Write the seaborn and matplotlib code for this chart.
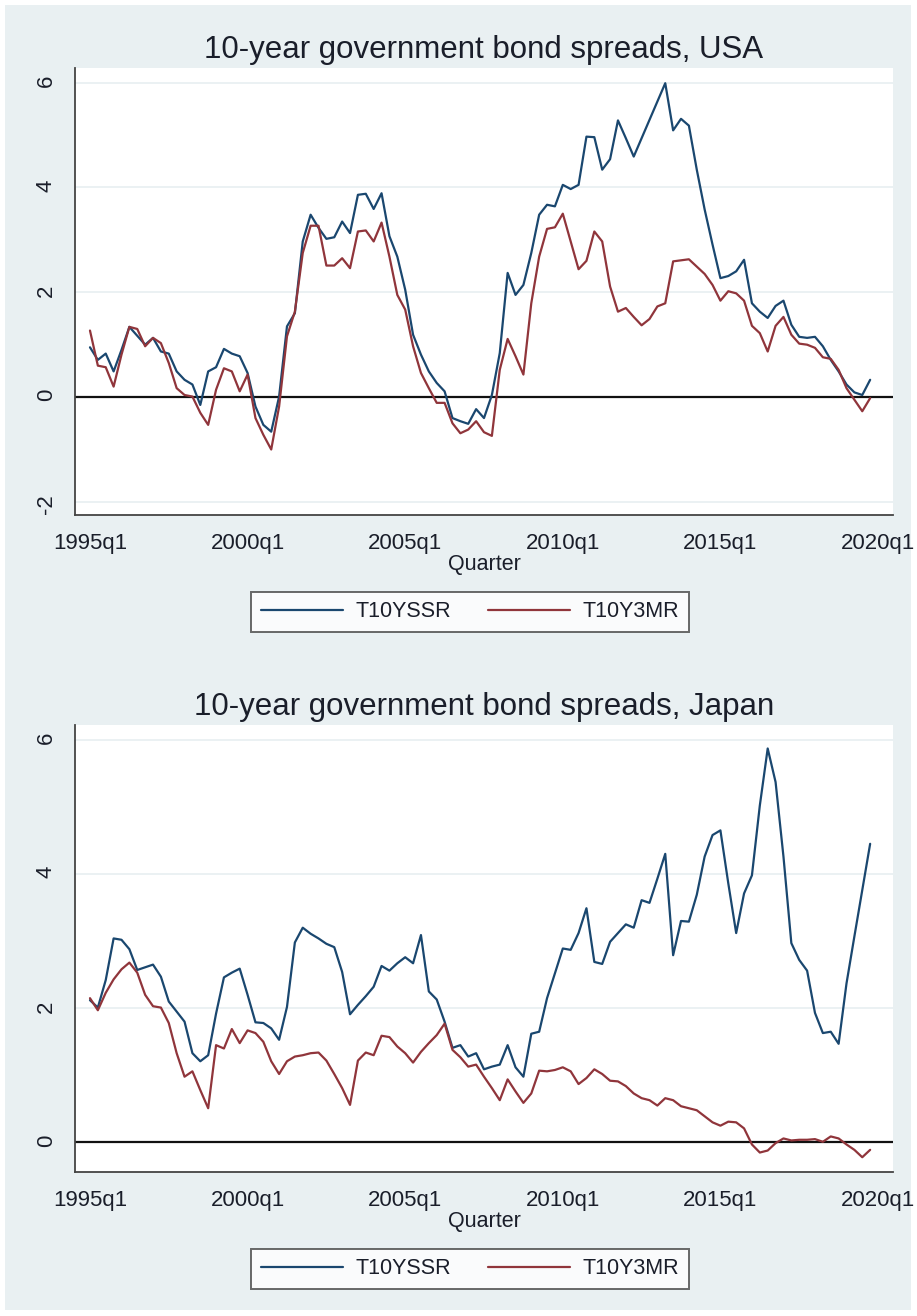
import numpy as np
import pandas as pd
import matplotlib
matplotlib.use("Agg")
import matplotlib.pyplot as plt
from matplotlib.patches import Rectangle
import seaborn as sns

# quarters as Stata %tq (1960q1 = 0): 1995q1 .. 2019q4
quarter = np.arange(140, 240)
tick_pos = [140, 160, 180, 200, 220, 240]
tick_lab = ["1995q1", "2000q1", "2005q1", "2010q1", "2015q1", "2020q1"]
series_names = ["T10YSSR", "T10Y3MR"]

# USA spreads
usa_t10yssr = [0.95, 0.71, 0.83, 0.49, 0.90, 1.34, 1.17, 1.00, 1.13, 0.87,
               0.83, 0.49, 0.33, 0.24, -0.15, 0.49, 0.57, 0.92, 0.83, 0.78,
               0.46, -0.18, -0.53, -0.66, 0.01, 1.35, 1.60, 2.97, 3.48, 3.23,
               3.02, 3.05, 3.35, 3.13, 3.86, 3.88, 3.59, 3.89, 3.07, 2.68,
               2.05, 1.19, 0.81, 0.49, 0.27, 0.11, -0.40, -0.46, -0.51, -0.23,
               -0.40, 0.04, 0.84, 2.37, 1.95, 2.14, 2.75, 3.48, 3.67, 3.64,
               4.05, 3.97, 4.05, 4.97, 4.96, 4.34, 4.54, 5.28, 4.94, 4.59,
               4.94, 5.29, 5.64, 5.99, 5.09, 5.31, 5.18, 4.34, 3.58, 2.91,
               2.27, 2.31, 2.40, 2.62, 1.79, 1.63, 1.51, 1.74, 1.84, 1.38,
               1.15, 1.13, 1.15, 0.97, 0.71, 0.49, 0.24, 0.09, 0.04, 0.33]
usa_t10y3mr = [1.27, 0.60, 0.57, 0.20, 0.81, 1.34, 1.30, 0.97, 1.13, 1.03,
               0.65, 0.17, 0.04, 0.01, -0.30, -0.53, 0.14, 0.55, 0.49, 0.11,
               0.43, -0.40, -0.72, -1.00, -0.18, 1.16, 1.63, 2.75, 3.27, 3.27,
               2.51, 2.51, 2.65, 2.46, 3.16, 3.18, 2.97, 3.33, 2.68, 1.95,
               1.67, 0.97, 0.46, 0.17, -0.11, -0.11, -0.50, -0.69, -0.62, -0.46,
               -0.67, -0.74, 0.52, 1.11, 0.78, 0.43, 1.79, 2.68, 3.21, 3.24,
               3.50, 2.97, 2.44, 2.60, 3.16, 2.97, 2.11, 1.63, 1.70, 1.53,
               1.37, 1.49, 1.73, 1.79, 2.59, 2.61, 2.63, 2.49, 2.35, 2.14,
               1.84, 2.02, 1.98, 1.84, 1.36, 1.22, 0.87, 1.36, 1.53, 1.19,
               1.02, 1.00, 0.94, 0.76, 0.73, 0.52, 0.17, -0.05, -0.27, -0.02]

# Japan spreads
jpn_t10yssr = [2.12, 2.01, 2.42, 3.04, 3.02, 2.88, 2.57, 2.61, 2.65, 2.47,
               2.10, 1.95, 1.80, 1.33, 1.21, 1.30, 1.92, 2.46, 2.53, 2.59,
               2.20, 1.79, 1.78, 1.70, 1.53, 2.02, 2.98, 3.20, 3.11, 3.04,
               2.96, 2.91, 2.54, 1.91, 2.05, 2.18, 2.32, 2.63, 2.56, 2.67,
               2.76, 2.67, 3.09, 2.25, 2.13, 1.80, 1.41, 1.45, 1.28, 1.33,
               1.09, 1.13, 1.16, 1.45, 1.12, 0.98, 1.62, 1.65, 2.15, 2.52,
               2.89, 2.87, 3.12, 3.49, 2.69, 2.66, 2.99, 3.12, 3.25, 3.20,
               3.61, 3.57, 3.93, 4.30, 2.79, 3.30, 3.29, 3.69, 4.26, 4.58,
               4.65, 3.86, 3.12, 3.71, 3.98, 5.02, 5.87, 5.37, 4.26, 2.97,
               2.72, 2.56, 1.93, 1.63, 1.65, 1.47, 2.37, 3.07, 3.76, 4.45]
jpn_t10y3mr = [2.15, 1.97, 2.23, 2.43, 2.58, 2.68, 2.53, 2.20, 2.03, 2.01,
               1.78, 1.33, 0.98, 1.06, 0.78, 0.51, 1.45, 1.40, 1.69, 1.48,
               1.67, 1.63, 1.50, 1.21, 1.02, 1.21, 1.28, 1.30, 1.33, 1.34,
               1.22, 1.02, 0.81, 0.56, 1.22, 1.34, 1.30, 1.59, 1.57, 1.43,
               1.33, 1.19, 1.35, 1.48, 1.60, 1.77, 1.38, 1.27, 1.13, 1.16,
               0.98, 0.81, 0.63, 0.94, 0.76, 0.59, 0.73, 1.07, 1.06, 1.08,
               1.12, 1.06, 0.87, 0.96, 1.09, 1.02, 0.92, 0.91, 0.84, 0.73,
               0.66, 0.63, 0.55, 0.66, 0.63, 0.54, 0.51, 0.48, 0.39, 0.30,
               0.25, 0.31, 0.30, 0.21, -0.03, -0.15, -0.12, -0.01, 0.06, 0.03,
               0.04, 0.04, 0.05, 0.01, 0.09, 0.06, -0.03, -0.11, -0.22, -0.11]

# stata s2color look
bg = "#e9f0f2"
navy = "#1a476f"
maroon = "#90353b"
txt = "#1a1e2a"

sns.set_theme(style="white")
plt.rcParams["font.family"] = ["Liberation Sans", "DejaVu Sans"]
plt.rcParams["axes.unicode_minus"] = False

W, H = 917, 1316
fig = plt.figure(figsize=(W / 100, H / 100), dpi=100, facecolor="white")
fig.patches.append(Rectangle((5 / W, 6 / H), (W - 11) / W, (H - 11) / H,
                             transform=fig.transFigure, facecolor=bg,
                             edgecolor="none", zorder=-10))


def px_axes(left, top, right, bottom):
    return fig.add_axes([left / W, 1 - bottom / H, (right - left) / W, (bottom - top) / H])


def panel(ax, ssr, y3m, title, ylim, yticks, leg_y):
    df = pd.DataFrame({"quarter": np.tile(quarter, 2),
                       "spread": np.concatenate([ssr, y3m]),
                       "series": np.repeat(series_names, len(quarter))})
    sns.lineplot(data=df, x="quarter", y="spread", hue="series",
                 palette={"T10YSSR": navy, "T10Y3MR": maroon},
                 linewidth=1.6, ax=ax, zorder=3)
    ax.axhline(0, color="#111111", lw=1.6, zorder=2)
    ax.set_facecolor("white")
    ax.set_xlim(138.1, 241.9)
    ax.set_ylim(*ylim)
    ax.set_yticks(yticks)
    ax.set_xticks(tick_pos)
    ax.set_xticklabels(tick_lab)
    ax.yaxis.grid(True, color=bg, lw=1.3)
    ax.xaxis.grid(False)
    ax.set_axisbelow(True)
    for s in ["top", "right"]:
        ax.spines[s].set_visible(False)
    for s in ["left", "bottom"]:
        ax.spines[s].set_color("#444444")
        ax.spines[s].set_linewidth(1.3)
    ax.tick_params(axis="both", direction="out", length=6, width=1.2,
                   color="#444444", labelsize=16, labelcolor=txt, pad=7)
    ax.tick_params(axis="y", labelrotation=90, pad=7)
    ax.set_title(title, fontsize=22.5, color=txt, pad=7)
    ax.set_xlabel("Quarter", fontsize=15.5, color=txt, labelpad=0)
    ax.set_ylabel("")
    h, l = ax.get_legend_handles_labels()
    ax.get_legend().remove()
    leg = fig.legend(h, l, loc="center", bbox_to_anchor=(470 / W, 1 - leg_y / H),
                     ncol=2, fontsize=15.5, frameon=True, fancybox=False,
                     handlelength=3.8, handletextpad=0.6, columnspacing=1.7,
                     borderpad=0.45, edgecolor="#444444")
    leg.get_frame().set_linewidth(1.4)
    for t in leg.get_texts():
        t.set_color(txt)


ax1 = px_axes(75, 68, 893, 515)
panel(ax1, usa_t10yssr, usa_t10y3mr, "10-year government bond spreads, USA",
      (-2.25, 6.28), [-2, 0, 2, 4, 6], 612)

ax2 = px_axes(75, 725, 893, 1172)
panel(ax2, jpn_t10yssr, jpn_t10y3mr, "10-year government bond spreads, Japan",
      (-0.44, 6.22), [0, 2, 4, 6], 1269)

plt.savefig("out.png", dpi=100, facecolor=fig.get_facecolor())
